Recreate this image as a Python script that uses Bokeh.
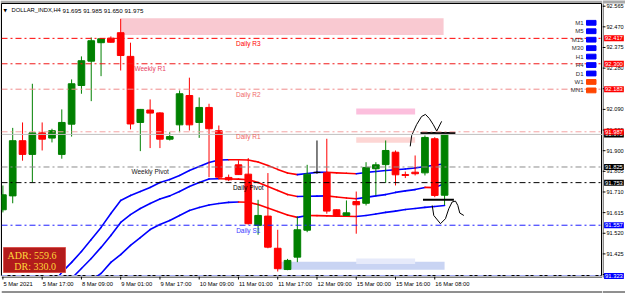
import numpy as np
from bokeh.plotting import figure
from bokeh.layouts import row, column
from bokeh.models import (Range1d, Span, Label, BoxAnnotation)
from bokeh.embed import file_html
from bokeh.resources import INLINE

# ---------------- data ----------------
opens = [91.628, 91.692, 91.946, 91.883, 91.982, 91.958, 91.883, 92.022, 92.200, 92.312,
         92.397, 92.418, 92.443, 92.334, 92.030, 92.087, 92.074, 91.953, 92.019, 92.154,
         92.030, 92.099, 91.992, 91.777, 91.835, 91.792, 91.556, 91.599, 91.451, 91.353,
         91.410, 91.534, 91.800, 91.798, 91.628, 91.602, 91.666, 91.658, 91.817, 91.836,
         91.893, 91.790, 91.801, 91.798, 91.955, 91.695]
highs = [91.740, 92.005, 92.030, 92.208, 92.030, 92.001, 92.090, 92.228, 92.334, 92.421,
         92.418, 92.426, 92.507, 92.397, 92.092, 92.136, 92.077, 91.985, 92.177, 92.236,
         92.145, 92.116, 92.016, 91.790, 91.855, 91.866, 91.674, 91.797, 91.536, 91.402,
         91.597, 91.835, 91.947, 91.955, 91.630, 91.671, 91.712, 91.847, 91.847, 91.947,
         91.901, 91.804, 91.878, 91.970, 91.962, 91.985]
lows = [91.616, 91.658, 91.854, 91.755, 91.901, 91.938, 91.863, 91.965, 92.162, 92.128,
        92.243, 92.397, 92.269, 91.998, 91.898, 91.912, 91.912, 91.947, 91.985, 91.993,
        91.959, 91.778, 91.772, 91.760, 91.788, 91.560, 91.513, 91.451, 91.344, 91.350,
        91.387, 91.525, 91.794, 91.610, 91.599, 91.599, 91.518, 91.648, 91.694, 91.752,
        91.740, 91.774, 91.786, 91.786, 91.686, 91.650]
closes = [91.697, 91.946, 91.883, 91.982, 91.953, 91.992, 92.030, 92.208, 92.314, 92.406,
          92.415, 92.399, 92.338, 92.023, 92.090, 92.073, 91.953, 91.965, 92.162, 92.019,
          92.099, 92.001, 91.778, 91.766, 91.790, 91.564, 91.602, 91.456, 91.357, 91.395,
          91.536, 91.792, 91.800, 91.622, 91.602, 91.614, 91.651, 91.823, 91.835, 91.901,
          91.789, 91.786, 91.794, 91.961, 91.694, 91.975]

# three band lines (first bar index, values)
upper_start = 5
upper_band = [91.280, 91.340, 91.386, 91.436, 91.491, 91.547, 91.611, 91.671, 91.694, 91.712,
              91.731, 91.754, 91.767, 91.786, 91.809, 91.827, 91.846, 91.857, 91.858, 91.858,
              91.857, 91.848, 91.832, 91.814, 91.797, 91.790, 91.795, 91.800, 91.801, 91.798,
              91.796, 91.794, 91.800, 91.804, 91.809, 91.812, 91.816, 91.820, 91.827, 91.833,
              91.840]
middle_start = 7
middle_band = [91.312, 91.358, 91.404, 91.455, 91.510, 91.570, 91.606, 91.634, 91.657, 91.678,
               91.692, 91.712, 91.735, 91.754, 91.770, 91.771, 91.770, 91.769, 91.766, 91.754,
               91.735, 91.717, 91.698, 91.689, 91.690, 91.691, 91.692, 91.687, 91.682, 91.679,
               91.685, 91.692, 91.698, 91.708, 91.715, 91.721, 91.731, 91.730, 91.749]
lower_start = 9
lower_band = [91.303, 91.335, 91.386, 91.422, 91.464, 91.500, 91.537, 91.560, 91.579, 91.602,
              91.625, 91.639, 91.650, 91.657, 91.662, 91.664, 91.663, 91.652, 91.636, 91.620,
              91.604, 91.593, 91.602, 91.601, 91.600, 91.599, 91.598, 91.597, 91.602, 91.609,
              91.616, 91.622, 91.629, 91.634, 91.639, 91.643, 91.648]

time_tick_bars = [0, 4, 8, 12, 16, 20, 24, 28, 32, 36, 40, 44]
time_tick_labels = ["5 Mar 2021", "5 Mar 17:00", "8 Mar 09:00", "9 Mar 01:00", "9 Mar 17:00",
                    "10 Mar 09:00", "11 Mar 01:00", "11 Mar 17:00", "12 Mar 09:00",
                    "15 Mar 00:00", "15 Mar 16:00", "16 Mar 08:00"]

price_ticks = [92.565, 92.470, 92.375, 92.280, 92.185, 92.090, 91.995, 91.900, 91.805,
               91.710, 91.615, 91.520, 91.425, 91.330]

level_prices = [92.417, 92.300, 92.183, 91.987, 91.825, 91.753, 91.557, 91.323]
level_names = ["Daily R3", "Weekly R1", "Daily R2", "Daily R1", "Weekly Pivot",
               "Daily Pivot", "Daily S1", ""]
level_label_bar = [25, 15, 25, 25, 15, 25, 25, 25]
level_line_colors = ["#ff0000", "#f01818", "#f08a8a", "#f4a4a4", "#8c8c8c", "#000000",
                     "#1f1fff", "#a3aaf2"]
level_text_colors = ["#ff0000", "#e8405e", "#f06a6a", "#f06464", "#202020", "#000000",
                     "#3a3aff", "#a3aaf2"]
level_widths = [1, 1, 1, 1, 1, 1, 1, 2]
bid_price = 91.975

box_prices = [92.417, 92.300, 92.183, 91.975, 91.987, 91.825, 91.753, 91.557, 91.323]
box_colors = ["#ff0000", "#ff0000", "#ff0000", "#000000", "#ff0000", "#000000", "#000000",
              "#0000ff", "#0000ff"]

zone_left = [12, 36, 36, 28, 36]
zone_right = [44.9, 42, 42, 45, 42]
zone_top = [92.510, 92.094, 91.962, 91.389, 91.404]
zone_bottom = [92.433, 92.067, 91.936, 91.352, 91.379]
zone_colors = ["#f9c9d1", "#fcbfdd", "#fdd6d4", "#c9d4f3", "#e6eafa"]

tf_names = ["M1", "M5", "M15", "M30", "H1", "H4", "D1", "W1", "MN1"]
tf_colors = ["#0000ff"] * 7 + ["#ff4500", "#ff4500"]

symbol_title = "DOLLAR_INDX,H4"
ohlc_title = "91.695  91.985  91.650  91.975"
adr_text = "ADR: 559.6"
dr_text = "DR: 330.0"

# hand-drawn marks (bar index, price)
mark_top_x = [42.55, 46.1]
mark_top_y = [91.981, 91.981]
mark_bot_x = [42.8, 45.95]
mark_bot_y = [91.674, 91.674]
curve_top_x = [41.5, 41.65, 42.15, 42.65, 43.05, 43.45, 43.85, 44.2]
curve_top_y = [91.92, 91.97, 92.02, 92.057, 92.067, 92.048, 92.02, 91.99]
curve_top2_x = [44.2, 44.7]
curve_top2_y = [91.99, 92.035]
curve_bot_x = [43.74, 43.9, 44.58, 45.09, 45.43, 45.77, 46.11, 46.35, 46.55, 46.96]
curve_bot_y = [91.648, 91.602, 91.564, 91.587, 91.633, 91.664, 91.668, 91.648, 91.613, 91.602]

# ---------------- layout geometry ----------------
W, H = 625, 293
BL, BT = 1, 3             # main border left / top
CR, CB = 602, 276         # chart frame right / bottom (canvas px)
FW, FH = CR - BL, CB - BT
XMIN, XMAX = -0.143, 61.09
YMIN, YMAX = 91.321, 92.5774
YS = FH / (YMAX - YMIN)   # px per price unit

FONT = "Liberation Sans"
CHROME = "#a9a9a9"


def price_at(cy):
    return YMAX - (cy - BT) / YS


def sx(cx):
    return cx - BL


def sy(cy):
    return FH - (cy - BT)


def bare(fig):
    fig.xgrid.visible = False
    fig.ygrid.visible = False
    return fig


# ---------------- main chart ----------------
p = bare(figure(width=CR, height=CB, output_backend="svg", toolbar_location=None,
                x_axis_location=None, y_axis_location=None, title=None,
                x_range=Range1d(XMIN, XMAX), y_range=Range1d(YMIN, YMAX),
                min_border_left=BL, min_border_right=0, min_border_top=BT, min_border_bottom=0,
                background_fill_color="white", border_fill_color=CHROME,
                outline_line_color="black", outline_line_width=1))

p.quad(left=zone_left, right=zone_right, top=zone_top, bottom=zone_bottom,
       fill_color=zone_colors, line_color=None)

for lp, lc, lw in zip(level_prices, level_line_colors, level_widths):
    p.add_layout(Span(location=lp, dimension="width", line_color=lc, line_width=lw,
                      line_dash="6 3 2 3"))
p.add_layout(Span(location=bid_price, dimension="width", line_color="#c0c0c0", line_width=1))

for lp, name, lb, tc in zip(level_prices, level_names, level_label_bar, level_text_colors):
    if name:
        p.add_layout(Label(x=lb, y=lp, text=name, text_align="center", text_baseline="middle",
                           y_offset=-5, text_font=FONT, text_font_size="6.5px", text_color=tc))

UP, DOWN = "#0000ff", "#ff0000"
for start, vals in ((upper_start, upper_band), (middle_start, middle_band),
                    (lower_start, lower_band)):
    bx = np.arange(start, start + len(vals))
    bv = np.array(vals)
    cols = np.where(bv[1:] > bv[:-1], UP, DOWN).tolist()
    p.segment(bx[:-1], bv[:-1], bx[1:], bv[1:], color=cols, line_width=1.6, line_cap="round")

o = np.array(opens)
c = np.array(closes)
idx = np.arange(len(opens))
ccol = np.where(c > o, "#008000", np.where(c < o, "#ff0000", "#000000")).tolist()
p.segment(idx, highs, idx, lows, color=ccol, line_width=1)
p.vbar(x=idx, width=0.68, top=np.maximum(o, c), bottom=np.minimum(o, c),
       fill_color=ccol, line_color=ccol, line_width=1)

p.line(mark_top_x, mark_top_y, line_color="black", line_width=2)
p.line(mark_bot_x, mark_bot_y, line_color="black", line_width=2)
p.line(curve_top_x, curve_top_y, line_color="black", line_width=1)
p.line(curve_top2_x, curve_top2_y, line_color="black", line_width=1)
p.line(curve_bot_x, curve_bot_y, line_color="black", line_width=1)

for k, (nm, col) in enumerate(zip(tf_names, tf_colors)):
    cy = 22.3 + 8.45 * k
    p.add_layout(Label(x=sx(583), y=sy(cy), x_units="screen", y_units="screen", text=nm,
                       text_align="right", text_baseline="middle", text_font=FONT,
                       text_font_size="6px", text_color="#303030"))
    p.add_layout(BoxAnnotation(left=sx(586), right=sx(595.5), bottom=sy(cy + 2.4),
                               top=sy(cy - 2.4), left_units="screen", right_units="screen",
                               top_units="screen", bottom_units="screen",
                               fill_color=col, fill_alpha=1, line_color=col, line_alpha=1))

p.add_layout(Label(x=sx(3), y=sy(9.5), x_units="screen", y_units="screen", text="\u25bc",
                   text_align="left", text_baseline="middle", text_font="DejaVu Sans",
                   text_font_size="4.5px", text_color="black"))
p.add_layout(Label(x=sx(11), y=sy(9.5), x_units="screen", y_units="screen", text=symbol_title,
                   text_align="left", text_baseline="middle", text_font=FONT,
                   text_font_size="5.8px", text_color="black"))
p.add_layout(Label(x=sx(62), y=sy(9.5), x_units="screen", y_units="screen", text=ohlc_title,
                   text_align="left", text_baseline="middle", text_font=FONT,
                   text_font_size="6.2px", text_color="black"))

p.add_layout(BoxAnnotation(left=sx(3), right=sx(65), bottom=sy(272), top=sy(247),
                           left_units="screen", right_units="screen", top_units="screen",
                           bottom_units="screen", fill_color="#b31b1b", fill_alpha=1,
                           line_color="#d9534f", line_alpha=1, line_width=1))
p.add_layout(Label(x=sx(56), y=sy(255), x_units="screen", y_units="screen", text=adr_text,
                   text_align="right", text_baseline="middle", text_font="Liberation Serif",
                   text_font_size="10px", text_color="#ffd83a"))
p.add_layout(Label(x=sx(55.5), y=sy(265.7), x_units="screen", y_units="screen", text=dr_text,
                   text_align="right", text_baseline="middle", text_font="Liberation Serif",
                   text_font_size="10px", text_color="#ffd83a"))

# ---------------- price scale (right strip) ----------------
r = bare(figure(width=W - CR, height=H, output_backend="svg", toolbar_location=None,
                x_axis_location=None, y_axis_location=None, title=None,
                x_range=Range1d(CR, W), y_range=Range1d(price_at(H), price_at(0)),
                min_border_left=0, min_border_right=0, min_border_top=0, min_border_bottom=0,
                background_fill_color="white", border_fill_color="white",
                outline_line_color=None))
r.add_layout(BoxAnnotation(bottom=price_at(BT), top=price_at(-2), fill_color=CHROME,
                           fill_alpha=1, line_color=None))
r.segment([CR + 0.6], [price_at(BT)], [CR + 0.6], [price_at(CB + 1)], line_color="#777777",
          line_width=1.5)
r.segment([CR] * len(price_ticks), price_ticks, [CR + 3] * len(price_ticks), price_ticks,
          line_color="black", line_width=1)
for t in price_ticks:
    r.add_layout(Label(x=CR + 4, y=t, text=f"{t:.3f}", text_align="left",
                       text_baseline="middle", text_font=FONT, text_font_size="5.6px",
                       text_color="black"))
for bp, bc in zip(box_prices, box_colors):
    r.add_layout(Label(x=CR + 1.6, y=bp, text=f"{bp:.3f}", text_align="left",
                       text_baseline="middle", text_font=FONT, text_font_size="5.8px",
                       text_color="white", background_fill_color=bc, padding=1))
r.add_layout(Span(location=price_at(291.5), dimension="width", line_color="#202020",
                  line_width=1))

# ---------------- time scale (bottom strip) ----------------
b = bare(figure(width=CR, height=H - CB, output_backend="svg", toolbar_location=None,
                x_axis_location=None, y_axis_location=None, title=None,
                x_range=p.x_range, y_range=Range1d(0, H - CB),
                min_border_left=BL, min_border_right=0, min_border_top=0, min_border_bottom=0,
                background_fill_color="white", border_fill_color="white",
                outline_line_color=None))
b.add_layout(Span(location=H - CB - 0.5, dimension="width", line_color="black", line_width=1))
b.segment(time_tick_bars, [H - CB] * len(time_tick_bars), time_tick_bars,
          [H - CB - 3] * len(time_tick_bars), line_color="black", line_width=1)
for tb, tl in zip(time_tick_bars, time_tick_labels):
    b.add_layout(Label(x=tb, y=H - 283, text=tl, text_align="left", text_baseline="middle",
                       x_offset=0.5, text_font=FONT, text_font_size="5.8px",
                       text_color="black"))
b.add_layout(Span(location=1.5, dimension="width", line_color="#202020", line_width=1))

layout = row(column(p, b, spacing=0), r, spacing=0)
open("out.html", "w").write(file_html(layout, INLINE))
